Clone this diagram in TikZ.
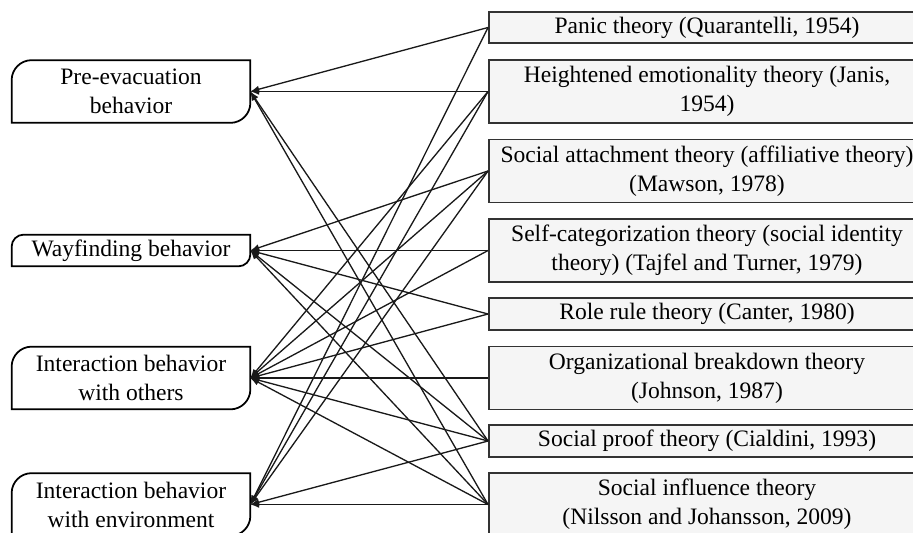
\documentclass[tikz,border=0pt]{standalone}
\usepackage{fontspec}
\setmainfont{Liberation Serif}
\usepackage{xcolor}
\usepackage{tikz}

\begin{document}
\begin{tikzpicture}[every node/.style={font=\fontsize{13.4}{16.5}\selectfont},
  theory/.style={draw=black!80, line width=1.1pt, fill=gray!8, rectangle, minimum width=8.72cm, minimum height=0.63cm, inner sep=0pt, align=center},
  behav/.style={rectangle, minimum width=4.76cm, minimum height=1.24cm, inner sep=0pt, align=center},
  link/.style={->, >=latex, line width=0.75pt, black!90}]
\clip (0,0) rectangle (18.26,-10.64);

% theories (right)
\node[theory] (panic) at (14.14,-0.55) {Panic theory (Quarantelli, 1954)};
\node[theory, minimum height=1.26cm] (emot) at (14.14,-1.83) {Heightened emotionality theory (Janis,\\1954)};
\node[theory, minimum height=1.26cm] (attach) at (14.14,-3.42) {Social attachment theory (affiliative theory)\\(Mawson, 1978)};
\node[theory, minimum height=1.26cm] (selfcat) at (14.14,-5.01) {Self-categorization theory (social identity\\theory) (Tajfel and Turner, 1979)};
\node[theory] (role) at (14.14,-6.28) {Role rule theory (Canter, 1980)};
\node[theory, minimum height=1.26cm] (org) at (14.14,-7.56) {Organizational breakdown theory\\(Johnson, 1987)};
\node[theory] (proof) at (14.14,-8.82) {Social proof theory (Cialdini, 1993)};
\node[theory, minimum height=1.26cm] (infl) at (14.14,-10.09) {Social influence theory\\(Nilsson and Johansson, 2009)};

% behaviors (left)
\node[behav] (pre) at (2.62,-1.83) {Pre-evacuation\\behavior};
\node[behav, minimum height=0.62cm] (way) at (2.62,-5.01) {Wayfinding behavior};
\node[behav] (oth) at (2.62,-7.56) {Interaction behavior\\with others};
\node[behav] (env) at (2.62,-10.09) {Interaction behavior\\with environment};

\draw[line width=1pt] (pre.north east) -- ([xshift=0.4cm]pre.north west) arc[start angle=90, end angle=180, radius=0.4cm] -- (pre.south west) -- ([xshift=-0.4cm]pre.south east) arc[start angle=270, end angle=360, radius=0.4cm] -- cycle;
\draw[line width=1pt] (way.north east) -- ([xshift=0.24cm]way.north west) arc[start angle=90, end angle=180, radius=0.24cm] -- (way.south west) -- ([xshift=-0.24cm]way.south east) arc[start angle=270, end angle=360, radius=0.24cm] -- cycle;
\draw[line width=1pt] (oth.north east) -- ([xshift=0.4cm]oth.north west) arc[start angle=90, end angle=180, radius=0.4cm] -- (oth.south west) -- ([xshift=-0.4cm]oth.south east) arc[start angle=270, end angle=360, radius=0.4cm] -- cycle;
\draw[line width=1pt] (env.north east) -- ([xshift=0.4cm]env.north west) arc[start angle=90, end angle=180, radius=0.4cm] -- (env.south west) -- ([xshift=-0.4cm]env.south east) arc[start angle=270, end angle=360, radius=0.4cm] -- cycle;

\draw[link] (panic.west) -- (pre.east);
\draw[link] (panic.west) -- (env.east);
\draw[link] (emot.west) -- (pre.east);
\draw[link] (emot.west) -- (oth.east);
\draw[link] (emot.west) -- (env.east);
\draw[link] (attach.west) -- (way.east);
\draw[link] (attach.west) -- (oth.east);
\draw[link] (attach.west) -- (env.east);
\draw[link] (selfcat.west) -- (way.east);
\draw[link] (selfcat.west) -- (oth.east);
\draw[link] (role.west) -- (way.east);
\draw[link] (role.west) -- (oth.east);
\draw[link] (org.west) -- (oth.east);
\draw[link] (proof.west) -- (pre.east);
\draw[link] (proof.west) -- (way.east);
\draw[link] (proof.west) -- (oth.east);
\draw[link] (proof.west) -- (env.east);
\draw[link] (infl.west) -- (pre.east);
\draw[link] (infl.west) -- (way.east);
\draw[link] (infl.west) -- (oth.east);
\draw[link] (infl.west) -- (env.east);
\end{tikzpicture}
\end{document}
